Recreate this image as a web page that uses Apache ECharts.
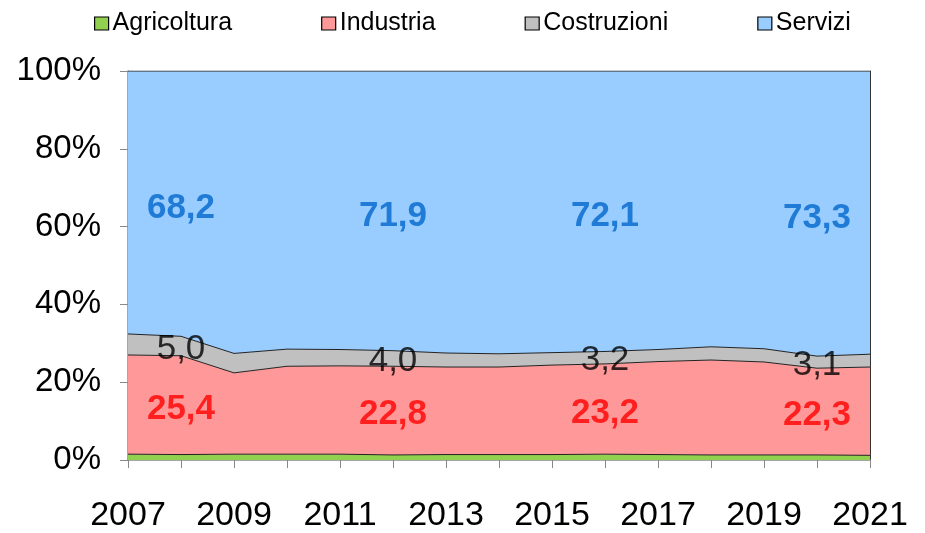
<!DOCTYPE html>
<html>
<head>
<meta charset="utf-8">
<script src="https://cdn.jsdelivr.net/npm/echarts@6/dist/echarts.min.js"></script>
<style>
html,body{margin:0;padding:0;background:#fff;}
#main{width:925px;height:533px;}
</style>
</head>
<body>
<div id="main"></div>
<script>
var years = ['2007','2008','2009','2010','2011','2012','2013','2014','2015','2016','2017','2018','2019','2020','2021'];
var agricoltura = [1.5,1.4,1.5,1.5,1.5,1.3,1.4,1.4,1.4,1.5,1.4,1.3,1.3,1.3,1.2];
var industria   = [25.5,25.4,20.9,22.6,22.7,22.8,22.5,22.5,23.0,23.2,23.9,24.4,23.9,22.3,22.7];
var costruzioni = [5.4,5.0,5.0,4.4,4.2,4.0,3.6,3.4,3.2,3.2,3.1,3.4,3.4,3.1,3.3];
var servizi     = [67.6,68.2,72.6,71.5,71.6,71.9,72.5,72.7,72.4,72.1,71.6,70.9,71.4,73.3,72.8];
var labelYears  = ['2008','2012','2016','2020'];
var yTicks = [0,20,40,60,80,100];

var FONT = "'Liberation Sans', Arial, sans-serif";
var fmt = function (v) { return v.toFixed(1).replace('.', ','); };

function midPoints(lowerArrays, arr) {
  return labelYears.map(function (y) {
    var i = years.indexOf(y);
    var base = 0;
    lowerArrays.forEach(function (a) { base += a[i]; });
    return [i, base + arr[i] / 2, arr[i]];
  });
}

function labelSeries(data, color, bold, dy) {
  return {
    type: 'scatter', symbolSize: 0, silent: true, z: 10,
    data: data,
    label: {
      show: true, position: 'inside', offset: [0, dy],
      formatter: function (p) { return fmt(p.data[2]); },
      color: color, fontSize: 35, fontWeight: bold ? 'bold' : 'normal', fontFamily: FONT
    }
  };
}

function areaSeries(name, data, color) {
  return {
    name: name, type: 'line', stack: 'tot', data: data,
    symbol: 'none', showSymbol: false, color: color,
    lineStyle: { color: '#222', width: 1 },
    areaStyle: { color: color, opacity: 1 },
    itemStyle: { color: color }
  };
}

var chart = echarts.init(document.getElementById('main'));
chart.setOption({
  animation: false,
  backgroundColor: '#fff',
  legend: {
    data: ['Agricoltura','Industria','Costruzioni','Servizi'],
    left: 89, top: 6, icon: 'rect', itemWidth: 14, itemHeight: 13, itemGap: 89,
    itemStyle: { borderColor: '#000', borderWidth: 1.2 },
    textStyle: { fontSize: 25, fontFamily: FONT, color: '#000', padding: [0,0,0,-1] }
  },
  grid: { left: 128, right: 55, top: 71, bottom: 73, containLabel: false, outerBoundsMode: 'none' },
  xAxis: {
    type: 'category', data: years, boundaryGap: false,
    axisLine: { lineStyle: { color: '#888', width: 1.5 } },
    axisTick: { show: true, interval: 0, length: 8, lineStyle: { color: '#888' } },
    axisLabel: { interval: 1, fontSize: 34, fontFamily: FONT, color: '#000', margin: 39 },
    splitLine: { show: false }
  },
  yAxis: [{
    type: 'value', min: 0, max: 100, interval: 20,
    axisLine: { show: true, lineStyle: { color: '#888', width: 1.5 } },
    axisTick: { show: true, length: 8, lineStyle: { color: '#888' } },
    axisLabel: { formatter: '{value}%', fontSize: 33, fontFamily: FONT, color: '#000', margin: 27 },
    splitLine: { show: false }
  }, {
    type: 'value', min: 0, max: 100, position: 'right',
    axisLine: { show: true, lineStyle: { color: '#333', width: 1 } },
    axisTick: { show: false }, axisLabel: { show: false }, splitLine: { show: false }
  }],
  series: [
    areaSeries('Agricoltura', agricoltura, '#92D050'),
    areaSeries('Industria', industria, '#FF9999'),
    areaSeries('Costruzioni', costruzioni, '#C0C0C0'),
    areaSeries('Servizi', servizi, '#99CCFF'),
    labelSeries(midPoints([agricoltura, industria, costruzioni], servizi), '#0066CC', true, 5),
    labelSeries(midPoints([agricoltura], industria), '#FF0000', true, 4),
    labelSeries(midPoints([agricoltura, industria], costruzioni), '#000000', false, 3)
  ]
});
</script>
</body>
</html>
